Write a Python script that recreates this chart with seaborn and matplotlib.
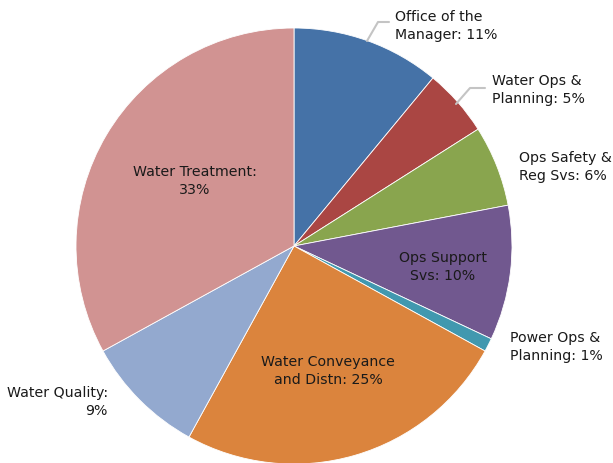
import matplotlib
matplotlib.use("Agg")
import matplotlib.pyplot as plt
import seaborn as sns

# Budget share by division (percent)
divisions = [
    "Office of the\nManager",
    "Water Ops &\nPlanning",
    "Ops Safety &\nReg Svs",
    "Ops Support\nSvs",
    "Power Ops &\nPlanning",
    "Water Conveyance\nand Distn",
    "Water Quality:\n",
    "Water Treatment:\n",
]
shares = [11, 5, 6, 10, 1, 25, 9, 33]
slice_colors = ["#4572A7", "#AA4643", "#89A54E", "#71588F",
                "#4198AF", "#DB843D", "#93A9CF", "#D19392"]

sns.set_theme(style="white")
plt.rcParams["font.family"] = ["DejaVu Sans"]
palette = sns.color_palette(slice_colors)

fig = plt.figure(figsize=(6.13, 4.63), dpi=100)
ax = fig.add_axes([0, 0, 1, 1])

cx, cy, r = 294, 246, 218
# y axis runs downward, so start at -90 and sweep counter-clockwise in data
# space to read clockwise from the top on screen
ax.pie(shares, colors=palette, startangle=-90, counterclock=True,
       center=(cx, cy), radius=r, frame=True,
       wedgeprops=dict(linewidth=0.6, edgecolor="white"))
ax.set_xlim(0, 613)
ax.set_ylim(463, 0)
ax.set_aspect("equal")
ax.axis("off")

# label placement: (x, y, horizontal alignment)
placements = [
    (395, 26, "left"),
    (492, 90, "left"),
    (519, 167, "left"),
    (443, 267, "center"),
    (510, 347, "left"),
    (328, 371, "center"),
    (108, 402, "right"),
    (195, 181, "center"),
]
fs = 10.2
for name, val, (x, y, ha) in zip(divisions, shares, placements):
    if name.endswith("\n"):
        text = f"{name}{val}%"
    else:
        text = f"{name}: {val}%"
    ax.text(x, y, text, ha=ha, va="center", fontsize=fs, color="#1a1a1a",
            multialignment=ha, linespacing=1.45)

# leader lines for the two small top-right labels
ax.plot([367, 378, 389], [41, 22, 22], color="#c4c4c4", lw=1.5)
ax.plot([456, 470, 485], [104, 88, 88], color="#c4c4c4", lw=1.5)

fig.savefig("out.png", dpi=100)
